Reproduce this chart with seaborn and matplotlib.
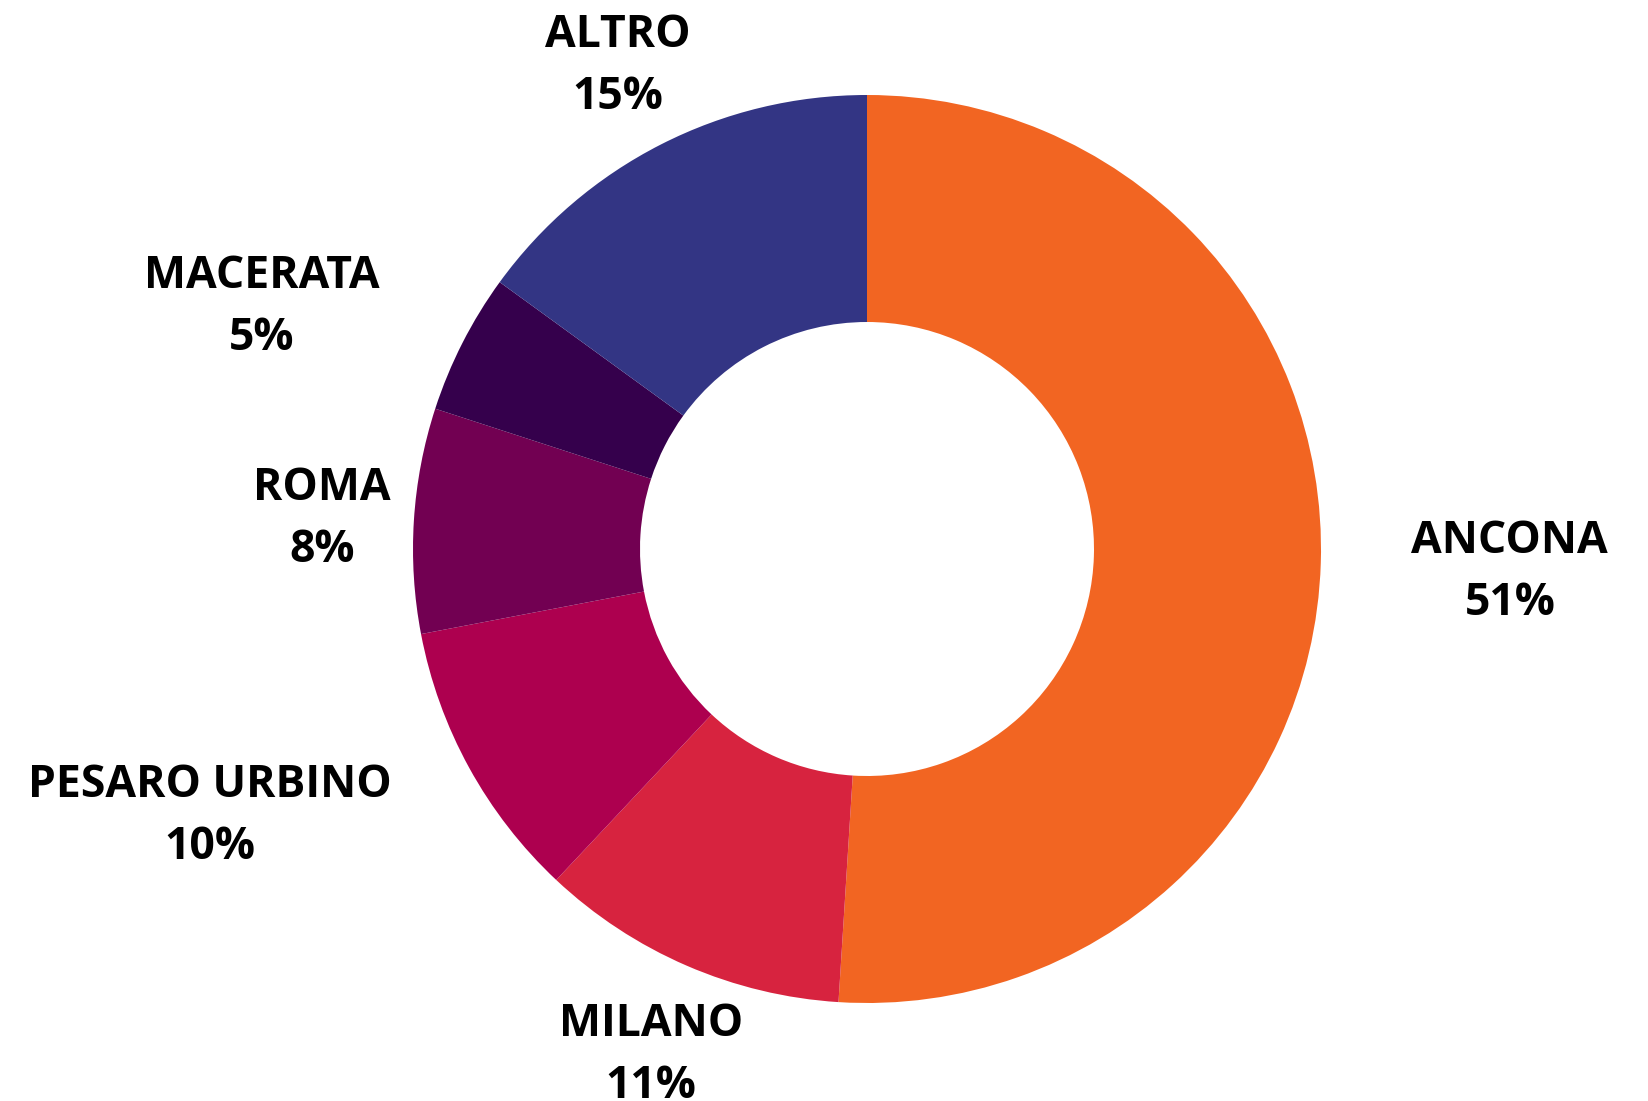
import matplotlib
matplotlib.use("Agg")
import matplotlib.pyplot as plt
import seaborn as sns
import numpy as np

categories = ["ANCONA", "MILANO", "PESARO URBINO", "ROMA", "MACERATA", "ALTRO"]
values = [51, 11, 10, 8, 5, 15]
colors = ["#F26522", "#D7233F", "#AD004F", "#720052", "#35004C", "#333584"]

# label block centres (in units of outer radius)
label_pos = [(1.416, -0.051), (-0.476, -1.115), (-1.447, -0.590),
             (-1.200, 0.064), (-1.333, 0.533), (-0.548, 1.062)]

sns.set_theme(style="white")
plt.rcParams['font.family'] = ['Open Sans', 'DejaVu Sans']

W, H = 1648, 1101
fig = plt.figure(figsize=(W / 100, H / 100), dpi=100)
ax = fig.add_axes([0, 0, 1, 1])

cx, cy, R = 867, 549, 454
ax.pie(values, colors=colors, startangle=90, counterclock=False,
       radius=1.0, wedgeprops=dict(width=0.5, edgecolor="none"))
ax.set_xlim(-cx / R, (W - cx) / R)
ax.set_ylim(-(H - cy) / R, cy / R)
ax.set_aspect("auto")
ax.axis("off")

for cat, v, (x, y) in zip(categories, values, label_pos):
    ax.text(x, y, f"{cat}\n{v}%", ha="center", va="center",
            fontsize=32, fontweight="bold", color="black", linespacing=1.5)

fig.savefig("out.png", dpi=100, facecolor="white")
